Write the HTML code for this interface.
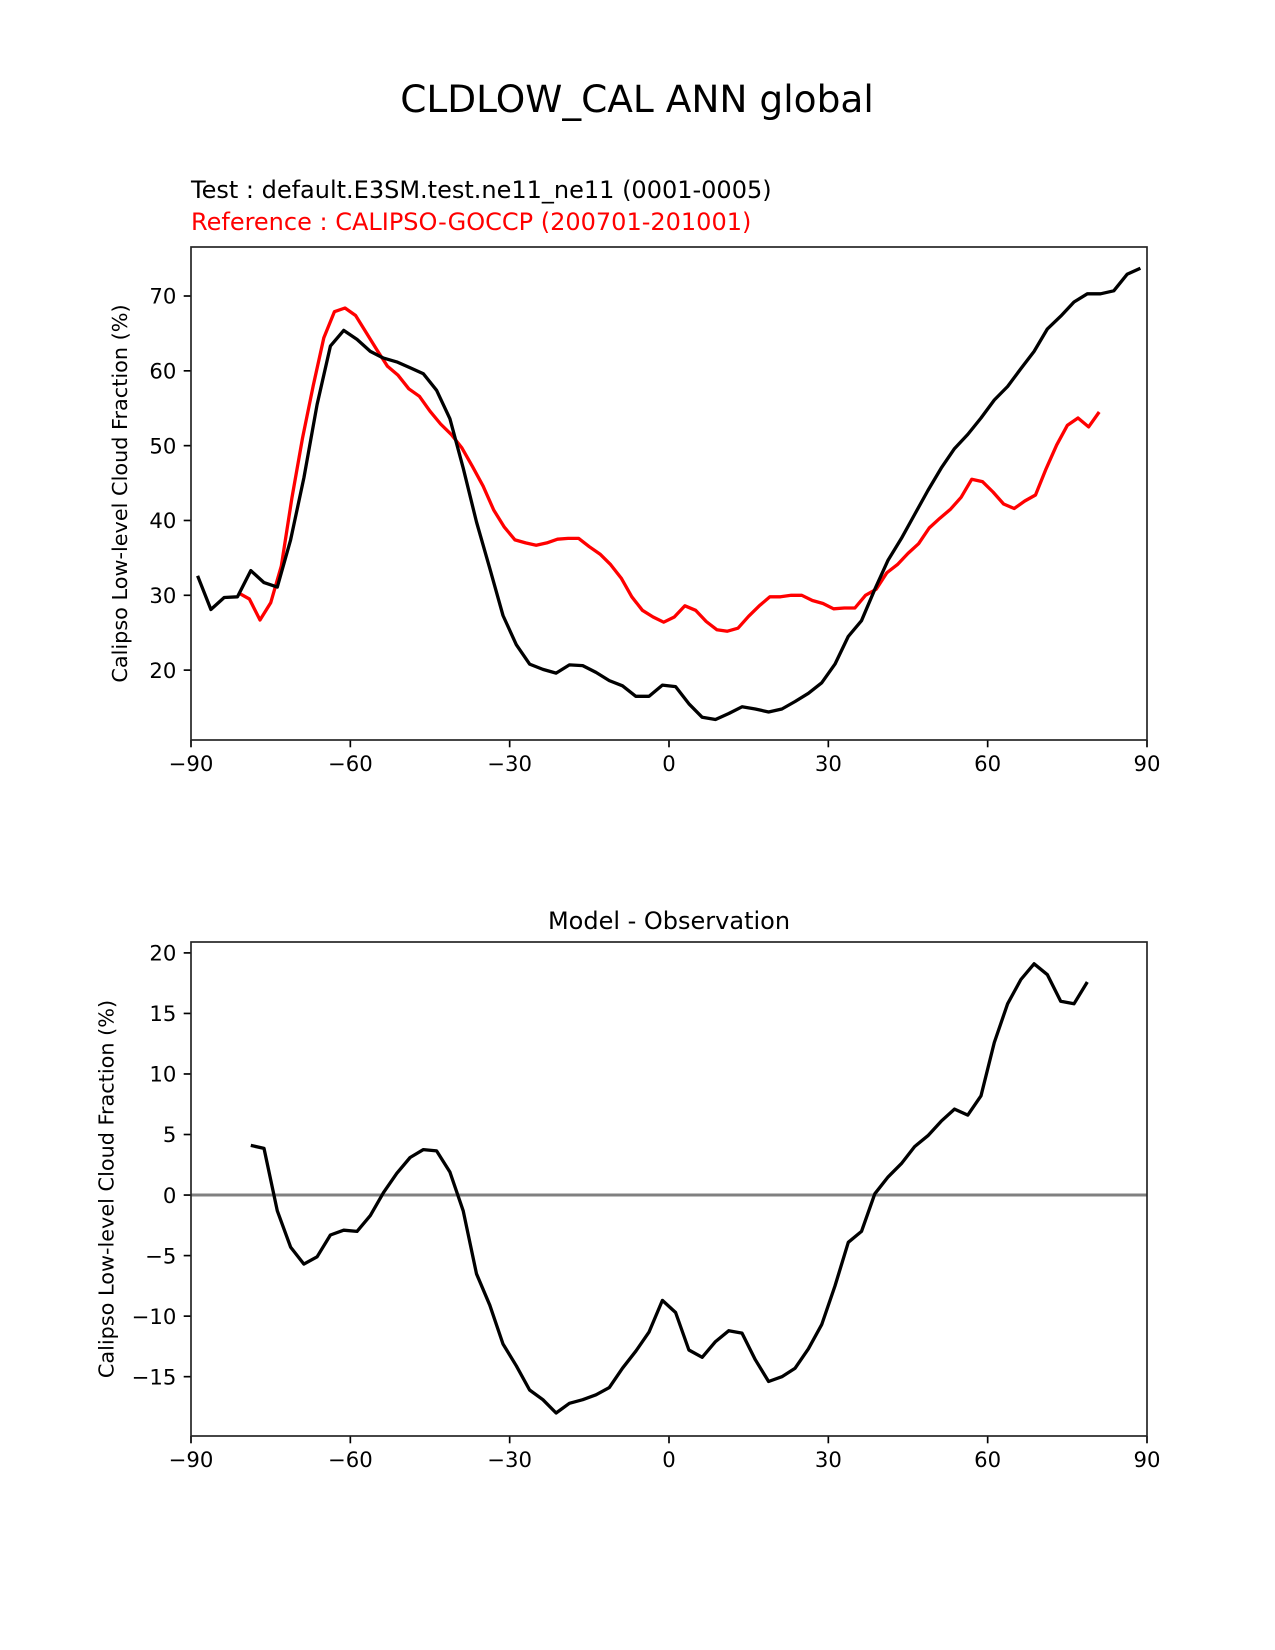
<!DOCTYPE html>
<html><head><meta charset="utf-8"><style>
html,body{margin:0;padding:0;background:#fff;}
svg{display:block;font-family:"DejaVu Sans","Liberation Sans",sans-serif;}
</style></head><body>
<svg id="fig" width="1275" height="1650" viewBox="0 0 1275 1650">
<rect width="1275" height="1650" fill="#fff"/>
<text x="637" y="112" font-size="37.5" text-anchor="middle">CLDLOW_CAL ANN global</text>
<text x="191" y="198" font-size="24">Test : default.E3SM.test.ne11_ne11 (0001-0005)</text>
<text x="191" y="230" font-size="24" fill="#ff0000">Reference : CALIPSO-GOCCP (200701-201001)</text>
<text x="669" y="929" font-size="24" text-anchor="middle">Model - Observation</text>
<g id="top"></g>
<g id="bot"></g>
</svg>
<script>
const testLat = [-88.75,-86.25,-83.75,-81.25,-78.75,-76.25,-73.75,-71.25,-68.75,-66.25,-63.75,-61.25,-58.75,-56.25,-53.75,-51.25,-48.75,-46.25,-43.75,-41.25,-38.75,-36.25,-33.75,-31.25,-28.75,-26.25,-23.75,-21.25,-18.75,-16.25,-13.75,-11.25,-8.75,-6.25,-3.75,-1.25,1.25,3.75,6.25,8.75,11.25,13.75,16.25,18.75,21.25,23.75,26.25,28.75,31.25,33.75,36.25,38.75,41.25,43.75,46.25,48.75,51.25,53.75,56.25,58.75,61.25,63.75,66.25,68.75,71.25,73.75,76.25,78.75,81.25,83.75,86.25,88.75];
const testVals = [32.6,28.1,29.7,29.8,33.3,31.7,31.1,37.4,45.7,55.5,63.3,65.4,64.2,62.6,61.7,61.2,60.4,59.6,57.4,53.6,47.0,39.8,33.6,27.3,23.4,20.8,20.1,19.6,20.7,20.6,19.7,18.6,17.9,16.5,16.5,18.0,17.8,15.5,13.7,13.4,14.2,15.1,14.8,14.4,14.8,15.8,16.9,18.3,20.8,24.5,26.6,30.8,34.7,37.6,40.8,44.0,47.0,49.6,51.5,53.7,56.1,57.9,60.3,62.6,65.6,67.3,69.2,70.3,70.3,70.7,72.9,73.7];
const refLat = [-81,-79,-77,-75,-73,-71,-69,-67,-65,-63,-61,-59,-57,-55,-53,-51,-49,-47,-45,-43,-41,-39,-37,-35,-33,-31,-29,-27,-25,-23,-21,-19,-17,-15,-13,-11,-9,-7,-5,-3,-1,1,3,5,7,9,11,13,15,17,19,21,23,25,27,29,31,33,35,37,39,41,43,45,47,49,51,53,55,57,59,61,63,65,67,69,71,73,75,77,79,81];
const refVals = [30.3,29.5,26.7,29.0,33.9,43.0,51.0,58.0,64.4,67.9,68.4,67.4,65.1,62.8,60.6,59.4,57.6,56.6,54.6,52.9,51.5,49.7,47.2,44.6,41.4,39.1,37.4,37.0,36.7,37.0,37.5,37.6,37.6,36.5,35.5,34.1,32.3,29.8,28.0,27.1,26.4,27.1,28.6,28.0,26.5,25.4,25.2,25.6,27.2,28.6,29.8,29.8,30.0,30.0,29.3,28.9,28.2,28.3,28.3,30.0,30.8,33.0,34.1,35.6,36.9,39.0,40.3,41.5,43.1,45.5,45.2,43.8,42.2,41.6,42.6,43.4,46.9,50.1,52.7,53.7,52.5,54.5];
const diffLat = [-78.75,-76.25,-73.75,-71.25,-68.75,-66.25,-63.75,-61.25,-58.75,-56.25,-53.75,-51.25,-48.75,-46.25,-43.75,-41.25,-38.75,-36.25,-33.75,-31.25,-28.75,-26.25,-23.75,-21.25,-18.75,-16.25,-13.75,-11.25,-8.75,-6.25,-3.75,-1.25,1.25,3.75,6.25,8.75,11.25,13.75,16.25,18.75,21.25,23.75,26.25,28.75,31.25,33.75,36.25,38.75,41.25,43.75,46.25,48.75,51.25,53.75,56.25,58.75,61.25,63.75,66.25,68.75,71.25,73.75,76.25,78.75];
const diffVals = [4.1,3.85,-1.3,-4.3,-5.7,-5.1,-3.3,-2.9,-3.0,-1.7,0.2,1.8,3.1,3.75,3.65,1.9,-1.3,-6.5,-9.1,-12.3,-14.1,-16.1,-16.9,-18.0,-17.2,-16.9,-16.5,-15.9,-14.3,-12.9,-11.3,-8.7,-9.7,-12.8,-13.4,-12.1,-11.2,-11.4,-13.6,-15.4,-15.0,-14.3,-12.7,-10.7,-7.5,-3.9,-3.0,0.1,1.5,2.6,4.0,4.9,6.1,7.1,6.6,8.2,12.6,15.8,17.8,19.1,18.2,16.0,15.8,17.6];
const xTicks = [-90,-60,-30,0,30,60,90];
const xTickLabels = ["\u221290","\u221260","\u221230","0","30","60","90"];
const topYTicks = [20,30,40,50,60,70];
const botYTicks = [-15,-10,-5,0,5,10,15,20];
const botYTickLabels = ["\u221215","\u221210","\u22125","0","5","10","15","20"];

const NS = "http://www.w3.org/2000/svg";
function mk(tag, attrs, parent){const e=document.createElementNS(NS,tag);for(const k in attrs)e.setAttribute(k,attrs[k]);parent.appendChild(e);return e;}

function panel(g, box, ymin, ymax, yTicks, yLabels, ylabX, prefix){
  const xs = v => box.l + (v+90)/180*(box.r-box.l);
  const ys = v => box.b - (v-ymin)/(ymax-ymin)*(box.b-box.t);
  xTicks.forEach((t,i)=>{
    const ln = mk('line',{x1:xs(t),x2:xs(t),y1:box.b,y2:box.b+7.3,stroke:'#000','stroke-width':1.67},g);
    
    
    const tx = mk('text',{x:xs(t),y:box.b+31,'font-size':21.2,'text-anchor':'middle'},g);
    tx.textContent = xTickLabels[i];
    
    
  });
  yTicks.forEach((t,i)=>{
    const ln = mk('line',{x1:box.l-7.3,x2:box.l,y1:ys(t),y2:ys(t),stroke:'#000','stroke-width':1.67},g);
    
    
    const tx = mk('text',{x:box.l-14.6,y:ys(t)+7.7,'font-size':21.2,'text-anchor':'end'},g);
    tx.textContent = yLabels[i];
    
    
  });
  const cy=(box.t+box.b)/2;
  const yl = mk('text',{x:ylabX,y:cy,'font-size':20.8,'text-anchor':'middle',transform:`rotate(-90 ${ylabX} ${cy})`},g);
  yl.textContent = 'Calipso Low-level Cloud Fraction (%)';
  
  
  return {xs,ys};
}
function line(g, s, lat, vals, color, w, name){
  const d = lat.map((x,i)=>(i?'L':'M')+s.xs(x).toFixed(1)+' '+s.ys(vals[i]).toFixed(1)).join(' ');
  const p = mk('path',{d,fill:'none',stroke:color,'stroke-width':w,'stroke-linejoin':'round'},g);
  
  
}
function frame(g, box, name){
  const r = mk('rect',{x:box.l,y:box.t,width:box.r-box.l,height:box.b-box.t,fill:'none',stroke:'#222','stroke-width':1.67},g);
  
  
}

const topG = document.getElementById('top');
const tb = {l:191,r:1147,t:247,b:740};
const ts = panel(topG, tb, 10.66, 76.55, topYTicks, topYTicks.map(String), 127, 'top');
line(topG, ts, refLat, refVals, '#ff0000', 3.3, 'reference-line');
line(topG, ts, testLat, testVals, '#000000', 3.3, 'test-line');
frame(topG, tb, 'top-plot-frame');

const botG = document.getElementById('bot');
const bb = {l:191,r:1147,t:942,b:1436};
const bs = panel(botG, bb, -19.9, 20.9, botYTicks, botYTickLabels, 113.5, 'diff');
const zl = mk('line',{x1:bb.l,x2:bb.r,y1:bs.ys(0),y2:bs.ys(0),stroke:'#808080','stroke-width':3},botG);


line(botG, bs, diffLat, diffVals, '#000000', 3.3, 'difference-line');
frame(botG, bb, 'diff-plot-frame');
</script>
</body></html>
